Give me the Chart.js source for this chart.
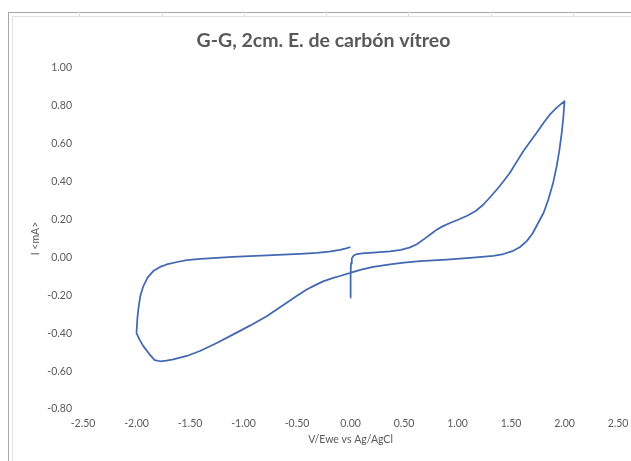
<!DOCTYPE html>
<html>
<head>
<meta charset="utf-8">
<script src="https://cdn.jsdelivr.net/npm/chart.js@4.4.0/dist/chart.umd.min.js"></script>
<style>
    html, body { margin: 0; padding: 0; background: #fff; }
    #marco { position: absolute; left: 0; top: 0; width: 631px; height: 461px; overflow: hidden; }
    .borde_ext { position: absolute; left: 8px; top: 12px; width: 700px; height: 600px; border-top: 1px solid #a6a6a6; border-left: 1px solid #a6a6a6; }
    .borde_int { position: absolute; left: 12px; top: 16px; width: 700px; height: 600px; border-top: 1px solid #e3e3e3; border-left: 1px solid #e3e3e3; }
    .col { position: absolute; top: 12px; width: 1px; height: 4px; background: #dedede; }
    #grafico { position: absolute; left: 0; top: 0; }
</style>
</head>
<body>
<div id="marco">
    <div class="borde_ext"></div>
    <div class="borde_int"></div>
    <div class="col" style="left:79px"></div>
    <div class="col" style="left:162px"></div>
    <div class="col" style="left:244px"></div>
    <div class="col" style="left:326px"></div>
    <div class="col" style="left:408px"></div>
    <div class="col" style="left:491px"></div>
    <div class="col" style="left:573px"></div>
    <canvas id="grafico" width="631" height="461"></canvas>
</div>
<script>
// Voltamperograma: potencial (V vs Ag/AgCl) y corriente (mA), en orden de barrido
// barrido anódico (desde 0 V hasta 2 V)
const potencialIda = [
    0.000, 0.000, 0.002, 0.005, 0.012, 0.030, 0.060, 0.110, 0.210, 0.370,
    0.470, 0.550, 0.620, 0.700, 0.770, 0.810, 0.860, 0.930, 1.010, 1.090,
    1.170, 1.240, 1.300, 1.370, 1.430, 1.490, 1.550, 1.615, 1.680, 1.740,
    1.800, 1.864, 1.930, 2.000
];
const corrienteIda = [
    -0.213, -0.150, -0.080, -0.030, -0.005, 0.010, 0.018, 0.022, 0.026, 0.032,
    0.040, 0.052, 0.070, 0.102, 0.132, 0.148, 0.164, 0.182, 0.200, 0.220,
    0.245, 0.278, 0.315, 0.360, 0.402, 0.447, 0.502, 0.561, 0.612, 0.658,
    0.707, 0.755, 0.792, 0.825
];
// barrido catódico (desde 2 V hasta -2 V)
const potencialVuelta = [
    1.990, 1.974, 1.952, 1.927, 1.892, 1.849, 1.805, 1.755, 1.700, 1.647,
    1.585, 1.521, 1.430, 1.335, 1.117, 0.899, 0.650, 0.500, 0.369, 0.213,
    0.100, 0.005, -0.098, -0.161, -0.250, -0.330, -0.409, -0.500, -0.596, -0.690,
    -0.783, -0.940, -1.095, -1.250, -1.407, -1.530, -1.656, -1.720, -1.780, -1.830,
    -1.880, -1.936, -1.970, -2.000
];
const corrienteVuelta = [
    0.745, 0.658, 0.565, 0.482, 0.390, 0.306, 0.236, 0.183, 0.125, 0.086,
    0.055, 0.035, 0.018, 0.008, -0.002, -0.011, -0.020, -0.027, -0.036, -0.050,
    -0.064, -0.080, -0.098, -0.108, -0.125, -0.146, -0.169, -0.202, -0.239, -0.275,
    -0.310, -0.360, -0.406, -0.452, -0.494, -0.520, -0.538, -0.545, -0.548, -0.542,
    -0.510, -0.468, -0.435, -0.400
];
// regreso hacia 0 V
const potencialRegreso = [
    -1.993, -1.983, -1.965, -1.936, -1.895, -1.843, -1.780, -1.718, -1.620, -1.531,
    -1.400, -1.250, -1.100, -0.939, -0.780, -0.628, -0.470, -0.316, -0.200, -0.098,
    -0.040, 0.000
];
const corrienteRegreso = [
    -0.330, -0.274, -0.205, -0.151, -0.105, -0.072, -0.050, -0.037, -0.024, -0.014,
    -0.007, -0.002, 0.003, 0.007, 0.011, 0.015, 0.019, 0.024, 0.031, 0.040,
    0.048, 0.055
];

const limitesX = { min: -2.5, max: 2.5, paso: 0.5 };
const limitesY = { min: -0.8, max: 1.0, paso: 0.2 };

const titulo = "G-G, 2cm. E. de carbón vítreo";
const tituloX = "V/Ewe vs Ag/AgCl";
const tituloY = "I <mA>";

const potencial = [...potencialIda, ...potencialVuelta, ...potencialRegreso];
const corriente = [...corrienteIda, ...corrienteVuelta, ...corrienteRegreso];
const puntos = potencial.map((v, i) => ({ x: v, y: corriente[i] }));

const fuente = "Lato, 'Open Sans', sans-serif";
const gris = '#595959';

new Chart(document.getElementById('grafico').getContext('2d'), {
    type: 'scatter',
    data: {
        datasets: [{
            data: puntos,
            showLine: true,
            borderColor: '#4268b0',
            borderWidth: 1.75,
            borderJoinStyle: 'round',
            pointRadius: 0,
            tension: 0,
            fill: false
        }]
    },
    options: {
        responsive: false,
        animation: false,
        layout: { padding: { left: 29, right: 13, top: 12, bottom: 5 } },
        plugins: {
            legend: { display: false },
            tooltip: { enabled: false },
            title: {
                display: true,
                text: titulo,
                color: gris,
                font: { family: fuente, size: 19.5, weight: 'bold' },
                padding: { top: 17.3, bottom: 15.3 }
            }
        },
        scales: {
            x: {
                type: 'linear',
                min: limitesX.min,
                max: limitesX.max,
                grid: { display: false, drawTicks: false, tickLength: 0 },
                border: { display: false },
                ticks: {
                    stepSize: limitesX.paso,
                    padding: 8,
                    color: gris,
                    font: { family: fuente, size: 10.5 },
                    callback: v => v.toFixed(2)
                },
                title: {
                    display: true,
                    text: tituloX,
                    color: gris,
                    font: { family: fuente, size: 10.5 },
                    padding: { top: 0, bottom: 10 }
                },
                afterFit: escala => {
                    escala.height = 47;
                    escala.paddingLeft = 0;
                    escala.paddingRight = 0;
                }
            },
            y: {
                type: 'linear',
                min: limitesY.min,
                max: limitesY.max,
                grid: { display: false, drawTicks: false, tickLength: 0 },
                border: { display: false },
                ticks: {
                    stepSize: limitesY.paso,
                    padding: 11,
                    color: gris,
                    font: { family: fuente, size: 10.5 },
                    callback: v => v.toFixed(2)
                },
                title: {
                    display: true,
                    text: tituloY,
                    color: gris,
                    font: { family: fuente, size: 10.5 },
                    padding: { top: 0, bottom: 0 }
                },
                afterFit: escala => { escala.width = 54; }
            }
        }
    }
});
</script>
</body>
</html>
